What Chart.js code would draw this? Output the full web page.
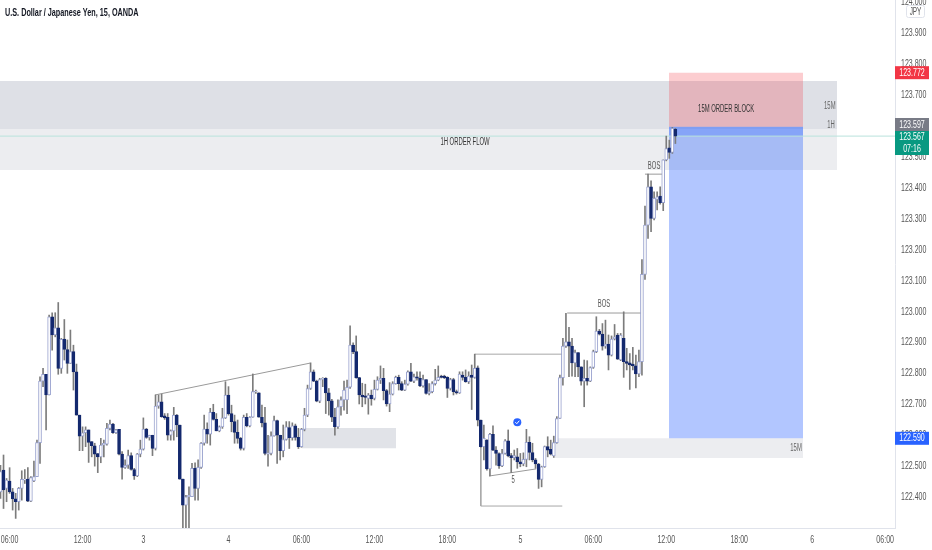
<!DOCTYPE html>
<html>
<head>
<meta charset="utf-8">
<title>USDJPY 15</title>
<script src="https://cdn.jsdelivr.net/npm/chart.js@4/dist/chart.umd.min.js"></script>
<style>
html, body { margin: 0; padding: 0; background: #fff; overflow: hidden; }
canvas { display: block; filter: blur(0.35px); }
</style>
</head>
<body>
<canvas id="usdjpy-chart" width="932" height="550"></canvas>
<script>
const opens = [
122.417,122.487,122.428,122.452,122.417,122.394,122.385,122.428,122.455,122.458,
122.387,122.452,122.466,122.576,122.775,122.797,122.730,122.983,122.924,122.947,
122.816,122.911,122.877,122.832,122.870,122.805,122.665,122.597,122.608,122.617,
122.579,122.566,122.541,122.530,122.568,122.571,122.622,122.636,122.608,122.619,
122.539,122.496,122.503,122.534,122.489,122.468,122.539,122.555,122.620,122.593,
122.600,122.557,122.694,122.708,122.663,122.658,122.600,122.614,122.665,122.633,
122.458,122.374,122.401,122.401,122.493,122.428,122.496,122.574,122.620,122.603,
122.674,122.651,122.614,122.627,122.656,122.730,122.670,122.644,122.609,122.590,
122.557,122.658,122.630,122.658,122.741,122.737,122.658,122.640,122.539,122.541,
122.598,122.647,122.600,122.550,122.586,122.625,122.592,122.630,122.593,122.563,
122.619,122.665,122.751,122.805,122.775,122.710,122.780,122.784,122.737,122.711,
122.658,122.627,122.692,122.714,122.714,122.755,122.891,122.870,122.786,122.730,
122.727,122.719,122.730,122.719,122.748,122.778,122.784,122.744,122.701,122.733,
122.767,122.787,122.767,122.746,122.765,122.805,122.775,122.789,122.784,122.759,
122.780,122.735,122.741,122.767,122.778,122.791,122.791,122.787,122.751,122.780,
122.741,122.737,122.794,122.787,122.773,122.794,122.787,122.818,122.649,122.563,
122.584,122.491,122.603,122.552,122.541,122.501,122.541,122.582,122.534,122.527,
122.530,122.514,122.507,122.522,122.577,122.544,122.520,122.507,122.457,122.498,
122.563,122.554,122.533,122.576,122.654,122.786,122.888,122.902,122.888,122.834,
122.867,122.821,122.775,122.784,122.775,122.819,122.870,122.937,122.927,122.888,
122.895,122.859,122.911,122.924,122.843,122.913,122.838,122.834,122.830,122.824,
122.798,122.838,123.120,123.279,123.403,123.301,123.362,123.373,123.352,123.490,123.529,123.514,123.589
];
const highs = [
122.503,122.536,122.460,122.495,122.428,122.412,122.431,122.485,122.489,122.495,
122.466,122.516,122.584,122.789,122.816,122.797,122.988,122.996,122.996,123.029,
122.913,122.974,122.908,122.940,122.891,122.830,122.665,122.627,122.627,122.617,
122.579,122.574,122.541,122.590,122.584,122.638,122.649,122.638,122.619,122.619,
122.547,122.520,122.552,122.543,122.493,122.541,122.584,122.656,122.622,122.600,
122.600,122.730,122.730,122.733,122.670,122.670,122.617,122.690,122.667,122.633,
122.458,122.406,122.433,122.509,122.511,122.520,122.576,122.665,122.640,122.687,
122.700,122.670,122.630,122.687,122.773,122.757,122.697,122.665,122.649,122.593,
122.665,122.670,122.660,122.798,122.746,122.737,122.697,122.690,122.600,122.611,
122.662,122.649,122.600,122.633,122.644,122.644,122.640,122.636,122.622,122.622,
122.687,122.762,122.834,122.811,122.778,122.784,122.786,122.786,122.751,122.716,
122.687,122.714,122.724,122.775,122.778,122.954,122.899,122.921,122.787,122.768,
122.765,122.735,122.746,122.778,122.789,122.824,122.816,122.748,122.770,122.773,
122.791,122.794,122.773,122.778,122.808,122.832,122.798,122.805,122.805,122.794,
122.780,122.767,122.773,122.813,122.824,122.794,122.794,122.789,122.784,122.784,
122.746,122.805,122.805,122.811,122.805,122.827,122.862,122.824,122.649,122.633,
122.586,122.606,122.630,122.563,122.543,122.554,122.586,122.617,122.541,122.552,
122.557,122.541,122.543,122.619,122.595,122.574,122.525,122.509,122.500,122.565,
122.595,122.584,122.597,122.660,122.794,122.913,122.994,122.949,122.913,122.875,
122.867,122.821,122.843,122.841,122.821,122.875,122.983,122.942,122.961,122.972,
122.924,122.921,122.958,122.929,122.929,122.999,122.881,122.864,122.884,122.859,
122.875,123.168,123.341,123.444,123.422,123.387,123.387,123.403,123.490,123.567,123.554,123.595,123.592
];
const lows = [
122.396,122.363,122.385,122.412,122.358,122.331,122.358,122.390,122.444,122.385,
122.385,122.450,122.466,122.509,122.757,122.617,122.730,122.875,122.918,122.797,
122.800,122.843,122.800,122.832,122.746,122.665,122.550,122.550,122.563,122.512,
122.530,122.500,122.479,122.511,122.530,122.568,122.617,122.606,122.606,122.536,
122.458,122.493,122.493,122.487,122.457,122.466,122.530,122.552,122.590,122.584,
122.534,122.552,122.687,122.658,122.651,122.584,122.584,122.584,122.595,122.458,
122.299,122.299,122.299,122.401,122.390,122.390,122.493,122.568,122.574,122.568,
122.649,122.614,122.611,122.622,122.654,122.665,122.611,122.574,122.574,122.552,
122.552,122.627,122.627,122.658,122.735,122.658,122.627,122.536,122.500,122.536,
122.597,122.509,122.520,122.530,122.584,122.557,122.584,122.584,122.557,122.561,
122.614,122.660,122.748,122.773,122.708,122.705,122.757,122.670,122.665,122.644,
122.600,122.622,122.665,122.681,122.670,122.751,122.864,122.784,122.701,122.692,
122.701,122.668,122.697,122.714,122.746,122.767,122.714,122.694,122.676,122.730,
122.765,122.746,122.744,122.744,122.762,122.773,122.770,122.778,122.757,122.755,
122.733,122.730,122.737,122.762,122.776,122.785,122.783,122.722,122.746,122.730,
122.733,122.735,122.778,122.771,122.767,122.683,122.784,122.630,122.561,122.520,
122.487,122.468,122.550,122.503,122.493,122.498,122.539,122.530,122.479,122.520,
122.493,122.498,122.501,122.498,122.520,122.514,122.493,122.428,122.433,122.496,
122.530,122.536,122.528,122.574,122.654,122.762,122.884,122.789,122.791,122.789,
122.789,122.762,122.692,122.762,122.773,122.816,122.867,122.924,122.875,122.881,
122.811,122.856,122.908,122.845,122.841,122.787,122.811,122.748,122.811,122.753,
122.789,122.794,123.104,123.236,123.258,123.296,123.328,123.347,123.326,123.487,123.495,123.511,123.543
];
const closes = [
122.482,122.423,122.455,122.417,122.394,122.385,122.428,122.457,122.458,122.387,
122.463,122.466,122.576,122.775,122.797,122.730,122.983,122.924,122.947,122.816,
122.910,122.877,122.832,122.870,122.805,122.665,122.597,122.608,122.617,122.577,
122.566,122.539,122.530,122.568,122.574,122.622,122.636,122.608,122.617,122.539,
122.496,122.503,122.534,122.489,122.468,122.539,122.555,122.620,122.593,122.600,
122.557,122.694,122.708,122.660,122.656,122.600,122.614,122.665,122.633,122.458,
122.374,122.401,122.406,122.493,122.428,122.496,122.574,122.620,122.603,122.674,
122.651,122.614,122.627,122.656,122.730,122.670,122.644,122.609,122.590,122.557,
122.658,122.630,122.658,122.741,122.743,122.658,122.640,122.541,122.543,122.598,
122.647,122.600,122.550,122.586,122.627,122.592,122.630,122.593,122.563,122.619,
122.665,122.751,122.805,122.775,122.710,122.780,122.784,122.737,122.711,122.658,
122.627,122.692,122.714,122.746,122.755,122.891,122.870,122.786,122.730,122.724,
122.722,122.730,122.717,122.748,122.778,122.784,122.744,122.701,122.733,122.767,
122.787,122.767,122.746,122.765,122.805,122.775,122.789,122.784,122.759,122.780,
122.735,122.741,122.767,122.778,122.787,122.787,122.786,122.751,122.780,122.741,
122.737,122.798,122.787,122.773,122.791,122.787,122.816,122.649,122.563,122.590,
122.491,122.603,122.552,122.541,122.501,122.541,122.582,122.533,122.527,122.534,
122.514,122.507,122.522,122.577,122.544,122.520,122.507,122.457,122.498,122.563,
122.552,122.539,122.576,122.654,122.786,122.888,122.902,122.888,122.834,122.867,
122.821,122.775,122.784,122.775,122.819,122.870,122.937,122.927,122.888,122.895,
122.859,122.911,122.918,122.846,122.924,122.838,122.832,122.827,122.824,122.798,
122.838,123.120,123.279,123.403,123.301,123.366,123.371,123.352,123.490,123.527,123.514,123.592,123.567
];

const timeTickBars = [3, 27, 47, 75, 99, 123, 147, 171, 195, 219, 243, 267, 291];
const timeTickLabels = ['06:00', '12:00', '3', '4', '06:00', '12:00', '18:00', '5', '06:00', '12:00', '18:00', '6', '06:00'];
const priceTicks = [122.4, 122.5, 122.6, 122.7, 122.8, 122.9, 123.0, 123.1, 123.2, 123.3, 123.4, 123.5, 123.6, 123.7, 123.8, 123.9, 124.0];

const targetPrice = 123.772;
const entryPrice = 123.597;
const lastPrice = 123.567;
const stopPrice = 122.590;

const xMin = -0.16, xMax = 294.24;
const FONT = '"Liberation Sans", sans-serif';

// the reference text is squeezed sideways, so every label goes through this
let textSqueeze = 0.64;

// zones are filled line datasets so they go through the scales
// higher order is painted first, so the gray bands sit under the position box
function zone(x1, x2, top, bottom, color, order) {
    return {
        type: 'line', data: [{ x: x1, y: top }, { x: x2, y: top }],
        fill: { value: bottom }, backgroundColor: color, borderWidth: 0, pointRadius: 0, order: order
    };
}
function line(points, color, width) {
    return {
        type: 'line', data: points.map(p => ({ x: p[0], y: p[1] })),
        borderColor: color, borderWidth: width, pointRadius: 0, fill: false, order: 3
    };
}

const bodies = opens.map((o, i) => ({ x: i, y: [o, closes[i]] }));
const wicks = opens.map((o, i) => ({ x: i, y: [lows[i], highs[i]] }));

const datasets = [
    zone(xMin, 275.2, 123.745, 123.590, 'rgba(209,212,220,0.72)', 6),
    zone(xMin, 275.2, 123.590, 123.457, 'rgba(209,212,220,0.42)', 6),
    zone(99.2, 130.1, 122.623, 122.558, 'rgba(209,212,220,0.65)', 6),
    zone(182.4, 264.0, 122.590, 122.526, 'rgba(209,212,220,0.42)', 6),
    zone(219.9, 264.0, targetPrice, entryPrice, 'rgba(242,54,69,0.25)', 5),
    zone(219.9, 264.0, entryPrice, lastPrice, 'rgba(41,98,255,0.52)', 5),
    zone(219.9, 264.0, lastPrice, stopPrice, 'rgba(41,98,255,0.36)', 5),
    line([[xMin, lastPrice], [xMax, lastPrice]], '#b9e2dc', 1),
    line([[50.8, 122.730], [101.8, 122.833]], '#9a9a9a', 1),
    line([[156, 122.862], [184.8, 122.862]], '#a8a8a8', 1),
    line([[158, 122.562], [158, 122.371], [184.8, 122.371]], '#a8a8a8', 1),
    line([[160.7, 122.468], [176.2, 122.491]], '#9a9a9a', 1),
    line([[186.4, 122.995], [211, 122.995]], '#9a9a9a', 1),
    line([[212, 123.444], [218, 123.444]], '#9a9a9a', 1),
    {
        type: 'bar', data: wicks, backgroundColor: '#7c7c7c', barThickness: 1, grouped: false, order: 2
    },
    {
        type: 'bar', data: bodies, barThickness: 3, grouped: false, order: 1, borderSkipped: false, borderWidth: 1,
        backgroundColor: ctx => closes[ctx.dataIndex] >= opens[ctx.dataIndex] ? '#ffffff' : '#14296e',
        borderColor: ctx => closes[ctx.dataIndex] >= opens[ctx.dataIndex] ? '#9aa3cf' : '#14296e'
    }
];

const chartTexts = [
    ['1H ORDER FLOW', 152.8, 123.548, '#333'],
    ['15M ORDER BLOCK', 238.7, 123.654, '#333'],
    ['15M', 272.8, 123.665, '#666'],
    ['1H', 273.2, 123.603, '#666'],
    ['15M', 261.7, 122.558, '#666'],
    ['5', 168.6, 122.455, '#555'],
    ['BOS', 198.5, 123.024, '#555'],
    ['BOS', 215, 123.468, '#555']
];

const overlayPlugin = {
    id: 'overlay',
    beforeDraw(chart) {
        const c = chart.ctx;
        const fill = c.fillText.bind(c);
        c.fillText = function (s, x, y) {
            c.save();
            c.translate(x, y);
            c.scale(textSqueeze, 1);
            fill(s, 0, 0);
            c.restore();
        };
    },
    afterDraw(chart) {
        const c = chart.ctx, xs = chart.scales.x, ys = chart.scales.y;
        c.save();

        c.textAlign = 'center';
        c.textBaseline = 'middle';
        c.font = '10px ' + FONT;
        textSqueeze = 0.59;
        chartTexts.forEach(t => {
            c.fillStyle = t[3];
            c.fillText(t[0], xs.getPixelForValue(t[1]), ys.getPixelForValue(t[2]));
        });
        textSqueeze = 0.64;

        // verified badge above the session low
        const bx = xs.getPixelForValue(170), by = ys.getPixelForValue(122.642);
        c.fillStyle = '#2962ff';
        c.beginPath(); c.arc(bx, by, 4, 0, Math.PI * 2); c.fill();
        c.strokeStyle = '#fff'; c.lineWidth = 1;
        c.beginPath(); c.moveTo(bx - 2, by); c.lineTo(bx - 0.5, by + 1.5); c.lineTo(bx + 2, by - 1.5); c.stroke();

        // price tags on the axis
        const tag = (top, h, color, lines) => {
            c.fillStyle = color;
            c.fillRect(895, top, 34, h);
            c.fillStyle = '#fff';
            c.font = '11px ' + FONT;
            lines.forEach((s, i) => c.fillText(s, 912, top + (h / lines.length) * (i + 0.5)));
        };
        tag(ys.getPixelForValue(targetPrice) - 6.5, 13, '#f23645', [targetPrice.toFixed(3)]);
        tag(118, 13, '#787b86', [entryPrice.toFixed(3)]);
        tag(131, 24, '#089981', [lastPrice.toFixed(3), '07:16']);
        tag(ys.getPixelForValue(stopPrice) - 6.5, 13, '#2962ff', [stopPrice.toFixed(3)]);

        // currency box
        c.fillStyle = '#fff';
        c.strokeStyle = '#e0e3eb';
        c.beginPath(); c.roundRect(906.5, 5.5, 18, 12, 2); c.fill(); c.stroke();
        c.fillStyle = '#555';
        c.font = '10px ' + FONT;
        c.fillText('JPY', 915.5, 12);

        c.textAlign = 'left';
        c.fillStyle = '#131722';
        c.font = 'bold 11px ' + FONT;
        textSqueeze = 0.66;
        c.fillText('U.S. Dollar / Japanese Yen, 15, OANDA', 5, 13);
        textSqueeze = 0.64;
        c.restore();
    }
};

new Chart(document.getElementById('usdjpy-chart'), {
    type: 'bar',
    data: { datasets: datasets },
    plugins: [overlayPlugin],
    options: {
        responsive: false,
        animation: false,
        layout: { padding: 0 },
        plugins: { legend: { display: false }, tooltip: { enabled: false } },
        scales: {
            x: {
                type: 'linear', min: xMin, max: xMax, offset: false,
                grid: { display: false, drawTicks: false },
                border: { color: '#e0e3eb' },
                afterBuildTicks(scale) { scale.ticks = timeTickBars.map(v => ({ value: v })); },
                afterFit(scale) { scale.height = 22; scale.paddingLeft = 0; scale.paddingRight = 0; },
                ticks: {
                    autoSkip: false, maxRotation: 0, padding: 5,
                    color: '#555', font: { family: FONT, size: 11 },
                    callback: (v, i) => timeTickLabels[i]
                }
            },
            y: {
                type: 'linear', position: 'right', min: 122.300, max: 124.007,
                grid: { display: false, drawTicks: false },
                border: { color: '#e0e3eb' },
                afterBuildTicks(scale) { scale.ticks = priceTicks.map(v => ({ value: v })); },
                afterFit(scale) { scale.width = 37; scale.paddingTop = 0; scale.paddingBottom = 0; },
                ticks: {
                    autoSkip: false, padding: 6,
                    color: '#555', font: { family: FONT, size: 11 },
                    callback: v => v.toFixed(3)
                }
            }
        }
    }
});
</script>
</body>
</html>
